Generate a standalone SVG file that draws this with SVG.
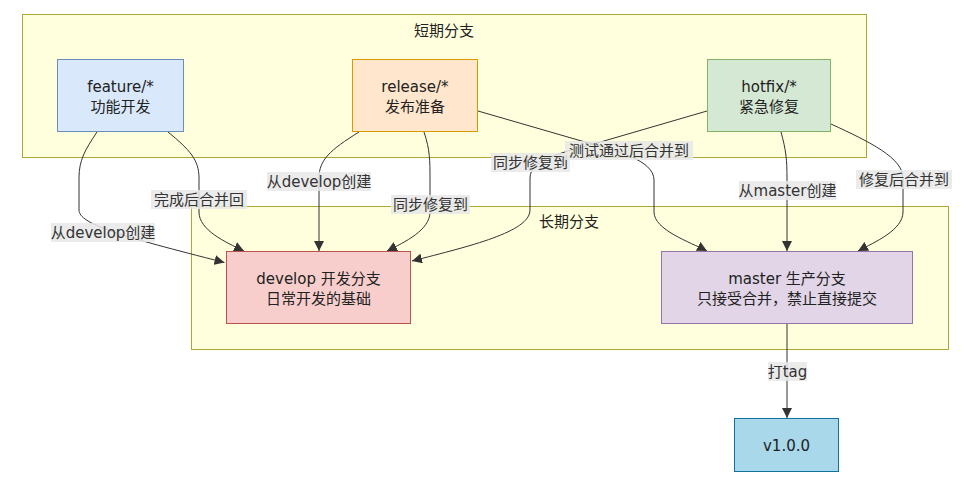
<svg xmlns="http://www.w3.org/2000/svg" width="968" height="487" viewBox="0 0 968 487">
<style>
text{font-family:"DejaVu Sans","Noto Sans CJK SC",sans-serif;font-size:15px;fill:#222;text-anchor:middle}
.cluster{fill:#ffffde;stroke:#aaaa33;stroke-width:1}
.edge{fill:none;stroke:#333;stroke-width:1;marker-end:url(#arr)}
.edge0{fill:none;stroke:#333;stroke-width:1}
.lbg{fill:#e8e8e8;fill-opacity:0.85}
.lt{fill:#333}
</style>
<defs>
<marker id="arr" viewBox="0 0 10 10" refX="10" refY="5" markerWidth="10" markerHeight="10" markerUnits="userSpaceOnUse" orient="auto">
<path d="M0,0 L10,5 L0,10 z" fill="#333"/>
</marker>
</defs>
<rect width="968" height="487" fill="#ffffff"/>
<g id="cluster-short">
<rect class="cluster" x="22.5" y="14.5" width="844" height="143"/>
<text x="444" y="36">短期分支</text>
</g>
<g id="cluster-long">
<rect class="cluster" x="191.5" y="206.5" width="757" height="143"/>
<text x="569" y="227">长期分支</text>
</g>
<g id="connectors">
<path class="edge" d="M97,132 C85,150 79,160 79,178 L79,210 C79,224 120,236 224.5,262.5"/>
<path class="edge" d="M168,132 C190,150 199,160 199,178 L199,212 C199,230 225,242 244,251"/>
<path class="edge" d="M359,132 C330,150 319,160 319,178 L319,251"/>
<path class="edge" d="M424,132 C430,150 430,160 430,180 L430,212 C430,230 405,242 387,251"/>
<path class="edge" d="M707,111 L597,143 C560,153 530,160 530,178 L530,210 C530,232 470,246 412,261"/>
<path class="edge" d="M478,111 L585,142 C615,150 654,160 654,180 L654,212 C654,230 690,242 707,251"/>
<path class="edge" d="M781,132 C786,150 787,160 787,178 L787,251"/>
<path class="edge" d="M831,124 C870,142 903,158 903,178 L903,212 C903,230 875,242 858,251"/>
<path class="edge" d="M787,324 L787,418"/>
<g id="edge-labels">
<rect class="lbg" x="51" y="223" width="104" height="19"/>
<text class="lt" x="103" y="237.5">从develop创建</text>
<rect class="lbg" x="151" y="190" width="96" height="19"/>
<text class="lt" x="199" y="204.5">完成后合并回</text>
<rect class="lbg" x="267" y="172" width="104" height="19"/>
<text class="lt" x="319" y="186.5">从develop创建</text>
<rect class="lbg" x="391" y="195" width="79" height="19"/>
<text class="lt" x="430.5" y="209.5">同步修复到</text>
<rect class="lbg" x="491" y="153" width="79" height="19"/>
<text class="lt" x="530.5" y="167.5">同步修复到</text>
<rect class="lbg" x="565" y="141" width="128" height="19"/>
<text class="lt" x="629" y="155.5">测试通过后合并到</text>
<rect class="lbg" x="739" y="181" width="97" height="19"/>
<text class="lt" x="787.5" y="195.5">从master创建</text>
<rect class="lbg" x="856" y="170" width="96" height="19"/>
<text class="lt" x="904" y="184.5">修复后合并到</text>
<rect class="lbg" x="768" y="362" width="39" height="19"/>
<text class="lt" x="787.5" y="376.5">打tag</text>
</g>
</g>
<g id="feature">
<rect x="57.5" y="59.5" width="126" height="72" fill="#dae8fc" stroke="#6c8ebf"/>
<text x="120.5" y="92">feature/*</text>
<text x="120.5" y="112">功能开发</text>
</g>
<g id="release">
<rect x="352.5" y="59.5" width="125" height="72" fill="#ffe6cc" stroke="#d79b00"/>
<text x="415" y="92">release/*</text>
<text x="415" y="112">发布准备</text>
</g>
<g id="hotfix">
<rect x="707.5" y="59.5" width="123" height="72" fill="#d5e8d4" stroke="#82b366"/>
<text x="769" y="92">hotfix/*</text>
<text x="769" y="112">紧急修复</text>
</g>
<g id="develop">
<rect x="226.5" y="251.5" width="184" height="72" fill="#f8cecc" stroke="#b85450"/>
<text x="318.5" y="284">develop 开发分支</text>
<text x="318.5" y="304">日常开发的基础</text>
</g>
<g id="master">
<rect x="661.5" y="251.5" width="251" height="72" fill="#e1d5e7" stroke="#9673a6"/>
<text x="787" y="284">master 生产分支</text>
<text x="787" y="304">只接受合并，禁止直接提交</text>
</g>
<g id="v100">
<rect x="734.5" y="418.5" width="104" height="53" fill="#a8d8ea" stroke="#10739e"/>
<text x="786.5" y="450.5">v1.0.0</text>
</g>
</svg>
